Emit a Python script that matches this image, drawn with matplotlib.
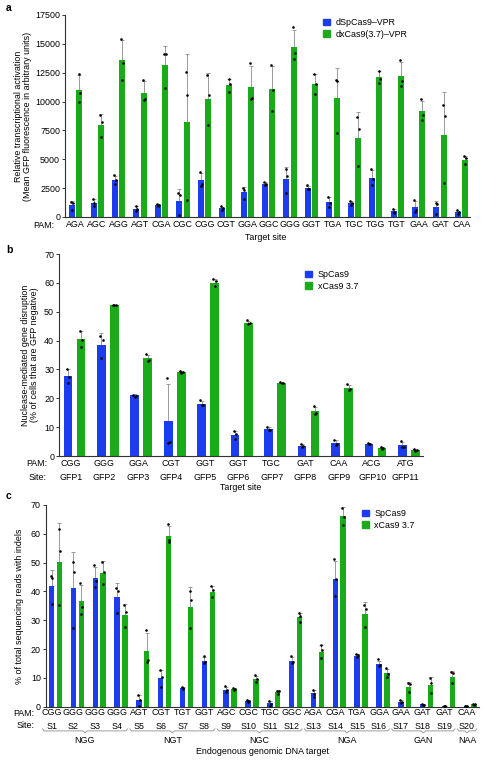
import numpy as np
import matplotlib
matplotlib.use('Agg')
import matplotlib.pyplot as plt
from matplotlib.patches import Patch
import matplotlib.transforms as mtransforms

plt.rcParams['font.family'] = ['Liberation Sans', 'DejaVu Sans']
FS = 6.4
plt.rcParams['font.size'] = FS

BLUE = '#1c3cf0'
GREEN = '#1aab1a'

# ---------------- panel a data ----------------
a_pams = ['AGA', 'AGC', 'AGG', 'AGT', 'CGA', 'CGC', 'CGG', 'CGT', 'GGA', 'GGC',
          'GGG', 'GGT', 'TGA', 'TGC', 'TGG', 'TGT', 'GAA', 'GAT', 'CAA']
a_blue = [1000, 1230, 3200, 720, 1030, 1370, 3170, 760, 2140, 2860,
          3250, 2500, 1290, 1230, 3420, 480, 860, 830, 400]
a_green = [11030, 7950, 13560, 10770, 13140, 8190, 10250, 11420, 11280, 11110,
           14760, 11500, 10310, 6880, 12110, 12230, 9160, 7130, 4970]
a_blue_pts = [[1300, 1200, 600], [1590, 1210, 950], [3600, 3230, 2880], [980, 720, 490],
              [1150, 1010, 920], [2080, 1880, 140], [3890, 2880, 2650], [920, 780, 630],
              [2540, 2310, 1590], [3030, 2830, 2740], [4180, 3550, 2080], [2770, 2390, 2390],
              [1730, 1210, 870], [1360, 1240, 1010], [4120, 3320, 2740], [690, 430, 350],
              [1500, 580, 460], [1240, 1100, 230], [580, 430, 290]]
a_green_pts = [[12400, 10760, 9950], [8850, 8220, 6890], [15430, 13320, 11910],
               [11910, 10240, 10150], [14130, 14130, 11190], [12550, 10580, 1500],
               [12340, 10530, 7930], [11970, 11480, 10870], [13350, 10270, 10240],
               [13180, 11020, 9170], [16440, 14190, 13700], [12400, 11480, 10670],
               [11910, 11740, 7300], [8650, 7640, 4380], [12690, 11970, 11650],
               [13610, 11770, 11330], [10180, 8850, 8420], [9720, 8770, 2940],
               [5280, 5130, 4610]]

# ---------------- panel b data ----------------
b_pams = ['CGG', 'GGG', 'GGA', 'CGT', 'GGT', 'GGT', 'TGC', 'GAT', 'CAA', 'ACG', 'ATG']
b_sites = ['GFP1', 'GFP2', 'GFP3', 'GFP4', 'GFP5', 'GFP6', 'GFP7', 'GFP8', 'GFP9', 'GFP10', 'GFP11']
b_blue = [27.6, 38.5, 21.0, 12.1, 18.1, 7.4, 9.3, 3.5, 4.5, 4.2, 3.8]
b_green = [40.4, 52.3, 33.8, 29.0, 60.1, 46.2, 25.3, 15.5, 23.6, 2.7, 2.1]
b_blue_pts = [[30.2, 27.3, 25.3], [41.6, 40.2, 34.1], [21.3, 20.8, 20.6], [27.0, 5.0, 4.6],
              [19.5, 17.7, 17.6], [8.8, 7.6, 6.0], [10.2, 9.0, 8.9], [4.1, 3.5, 3.1],
              [5.6, 4.1, 3.9], [4.5, 4.2, 4.0], [5.2, 3.2, 3.0]]
b_green_pts = [[43.3, 40.2, 37.8], [52.5, 52.2, 52.3], [35.2, 33.3, 33.0], [29.6, 29.0, 28.6],
               [61.5, 60.5, 58.9], [47.0, 46.0, 45.8], [25.5, 25.3, 25.2], [17.5, 14.8, 14.5],
               [24.8, 23.1, 22.9], [3.0, 2.7, 2.4], [2.5, 2.1, 1.9]]

# ---------------- panel c data ----------------
c_pams = ['CGG', 'GGG', 'GGG', 'GGG', 'AGT', 'CGT', 'TGT', 'GGT', 'AGC', 'CGC',
          'TGC', 'GGC', 'AGA', 'CGA', 'TGA', 'GGA', 'GAA', 'GAT', 'GAT', 'CAA']
c_sites = ['S%d' % i for i in range(1, 21)]
c_blue = [41.9, 41.3, 44.7, 38.0, 2.3, 9.8, 6.6, 16.0, 5.8, 2.1,
          1.2, 16.0, 4.6, 44.3, 17.7, 14.8, 1.7, 0.8, 0.35, 0.2]
c_green = [50.3, 36.7, 46.5, 31.8, 19.4, 59.4, 34.7, 39.9, 6.0, 9.6,
           5.2, 31.1, 19.1, 66.2, 32.2, 11.6, 6.9, 7.5, 10.4, 0.9]
c_blue_pts = [[45.4, 44.6, 35.7], [50.1, 46.9, 27.4], [49.2, 43.5, 41.7], [41.2, 40.3, 32.4],
              [4.0, 2.3, 0.3], [12.6, 10.3, 6.8], [6.8, 6.5, 6.3], [17.6, 15.5, 15.3],
              [7.2, 5.8, 5.0], [2.4, 2.1, 1.8], [2.0, 1.1, 0.4], [17.6, 15.5, 15.3],
              [5.8, 4.3, 3.5], [51.2, 44.3, 38.4], [18.3, 17.8, 17.2], [16.4, 14.5, 14.2],
              [2.2, 1.6, 1.3], [0.9, 0.7, 0.6], [0.4, 0.3, 0.3], [0.2, 0.1, 0.2]]
c_green_pts = [[61.7, 54.2, 35.3], [43.1, 34.7, 32.3], [50.3, 46.8, 42.5], [35.3, 33.0, 27.8],
               [26.7, 16.2, 15.4], [63.3, 57.9, 57.1], [40.3, 37.0, 27.2], [41.9, 40.5, 38.0],
               [6.4, 6.0, 5.7], [10.9, 9.6, 8.7], [5.6, 5.5, 4.3], [32.4, 31.5, 29.5],
               [21.3, 19.7, 16.8], [69.1, 66.0, 63.2], [35.3, 33.9, 27.5], [13.3, 11.3, 10.2],
               [8.1, 7.9, 5.2], [10.1, 8.1, 4.6], [12.2, 11.6, 8.3], [1.0, 0.9, 0.7]]
c_groups = [('NGG', 0, 3), ('NGT', 4, 7), ('NGC', 8, 11), ('NGA', 12, 15),
            ('GAN', 16, 18), ('NAA', 19, 19)]

W, H = 483, 760
fig = plt.figure(figsize=(W / 100, H / 100), dpi=100)


def px_axes(left, top, right, bottom):
    return fig.add_axes([left / W, 1 - bottom / H, (right - left) / W, (bottom - top) / H])


def ftext(x, y, s, **kw):
    fig.text(x / W, 1 - y / H, s, **kw)


def draw_bars(ax, blue, green, bpts, gpts, off, width, xpad):
    x = np.arange(len(blue))
    for xs, h, pts, col in [(x - off, blue, bpts, BLUE), (x + off, green, gpts, GREEN)]:
        sd = np.array([np.std(p, ddof=1) for p in pts])
        ax.errorbar(xs, h, yerr=[np.zeros(len(h)), sd], fmt='none', ecolor='#8c8c8c',
                    elinewidth=0.6, capsize=1.3, capthick=0.6, zorder=1)
        ax.bar(xs, h, width=width, color=col, zorder=2, linewidth=0)
        jit = [-0.04, 0.04, 0.0]
        for xi, p in zip(xs, pts):
            ax.scatter([xi + j for j in jit], p, s=3.5, color='black', zorder=3, linewidths=0)
    for s in ['top', 'right']:
        ax.spines[s].set_visible(False)
    for s in ['left', 'bottom']:
        ax.spines[s].set_linewidth(0.8)
        ax.spines[s].set_color('#333333')
    ax.tick_params(axis='y', length=2.5, width=0.7, pad=1, labelsize=FS, color='#333333')
    ax.tick_params(axis='x', length=0, pad=xpad, labelsize=FS)


def legend(ax, labels, x, y):
    handles = [Patch(color=BLUE), Patch(color=GREEN)]
    ax.legend(handles, labels, loc='upper left', bbox_to_anchor=(x, y), frameon=False,
              fontsize=FS, handlelength=0.8, handleheight=0.8, handletextpad=0.6,
              borderpad=0, borderaxespad=0, labelspacing=0.3)


# ---------------- panel a ----------------
axa = px_axes(65, 15, 470, 217)
draw_bars(axa, a_blue, a_green, a_blue_pts, a_green_pts, 0.17, 0.28, 2.2)
axa.set_xlim(-0.5, 18.4)
axa.set_ylim(0, 17500)
axa.set_yticks(np.arange(0, 17501, 2500))
axa.set_xticks(np.arange(len(a_pams)))
axa.set_xticklabels(a_pams)
legend(axa, ['dSpCas9\u2013VPR', 'dxCas9(3.7)\u2013VPR'], 0.637, 0.985)
ftext(44, 226, 'PAM:', ha='center', va='center', fontsize=FS)
ftext(266, 238, 'Target site', ha='center', va='center', fontsize=FS)
ftext(23, 116, 'Relative transcriptional activation\n(Mean GFP fluorescence in arbitrary units)',
      rotation=90, ha='center', va='center', fontsize=FS, linespacing=1.1)
ftext(9, 8, 'a', fontweight='bold', fontsize=7.5, ha='center', va='center')

# ---------------- panel b ----------------
axb = px_axes(59, 254, 423, 456)
draw_bars(axb, b_blue, b_green, b_blue_pts, b_green_pts, 0.195, 0.26, 1.8)
axb.set_xlim(-0.46, 10.42)
axb.set_ylim(0, 70)
axb.set_yticks(np.arange(0, 71, 10))
axb.set_xticks(np.arange(len(b_pams)) - 0.1)
axb.set_xticklabels([p + '\n' + s for p, s in zip(b_pams, b_sites)], linespacing=1.85)
legend(axb, ['SpCas9', 'xCas9 3.7'], 0.676, 0.92)
ftext(37, 464, 'PAM:', ha='center', va='center', fontsize=FS)
ftext(38, 477, 'Site:', ha='center', va='center', fontsize=FS)
ftext(241, 488, 'Target site', ha='center', va='center', fontsize=FS)
ftext(30, 355, 'Nuclease-mediated gene disruption\n(% of cells that are GFP negative)',
      rotation=90, ha='center', va='center', fontsize=FS, linespacing=1.1)
ftext(9, 250, 'b', fontweight='bold', fontsize=7.5, ha='center', va='center')

# ---------------- panel c ----------------
axc = px_axes(45.7, 505, 479, 706.7)
draw_bars(axc, c_blue, c_green, c_blue_pts, c_green_pts, 0.18, 0.25, 1.2)
axc.set_xlim(-0.45, 19.4)
axc.set_ylim(0, 70)
axc.set_yticks(np.arange(0, 71, 10))
axc.set_xticks(np.arange(len(c_pams)) - 0.18)
axc.set_xticklabels([p + '\n' + s for p, s in zip(c_pams, c_sites)], linespacing=1.7)
legend(axc, ['SpCas9', 'xCas9 3.7'], 0.73, 0.98)
ftext(24, 713, 'PAM:', ha='center', va='center', fontsize=FS)
ftext(26, 725, 'Site:', ha='center', va='center', fontsize=FS)
ftext(262, 752, 'Endogenous genomic DNA target', ha='center', va='center', fontsize=FS)
ftext(20, 606, '% of total sequencing reads with indels',
      rotation=90, ha='center', va='center', fontsize=FS)
ftext(9, 496, 'c', fontweight='bold', fontsize=7.5, ha='center', va='center')

trans = mtransforms.blended_transform_factory(axc.transData, axc.transAxes)
yb = -0.12
for name, i0, i1 in c_groups:
    x0, x1 = i0 - 0.6, i1 + 0.3
    xm = (x0 + x1) / 2
    axc.plot([x0, x0 + 0.08, xm - 0.1, xm, xm + 0.1, x1 - 0.08, x1],
             [yb + 0.01, yb, yb, yb - 0.01, yb, yb, yb + 0.01],
             transform=trans, clip_on=False, color='#8c8c8c', lw=0.6)
    axc.text(xm, -0.167, name, transform=trans, ha='center', va='center', fontsize=FS)

fig.savefig('out.png', dpi=100)
